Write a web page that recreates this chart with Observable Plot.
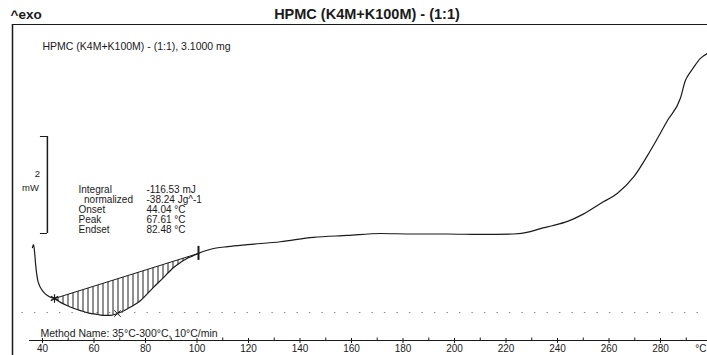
<!DOCTYPE html>
<html><head><meta charset="utf-8">
<script src="https://cdn.jsdelivr.net/npm/d3@7"></script>
<script src="https://cdn.jsdelivr.net/npm/@observablehq/plot@0.6"></script>
<style>body{margin:0;background:#fff;} svg{display:block}</style>
</head><body>
<svg width="0" height="0" style="position:absolute"><defs><pattern id="hatch" patternUnits="userSpaceOnUse" width="5" height="8"><line x1="2.5" y1="0" x2="2.5" y2="8" stroke="#222" stroke-width="1"/></pattern></defs></svg>
<div id="chart"></div>
<script>
// DSC curve: temperature (°C) and heat flow (mW, relative, exo up)
const tempC = [36.1,36.5,36.9,37.3,38.1,38.8,39.6,40.6,41.9,43.3,44.66,47.0,49.7,52.0,54.8,58.0,61.4,64.0,66.4,69.1,73.0,78.1,83.1,87.0,90.9,93.5,96.3,98.5,100.58,103.0,106.4,112.0,119.6,132.4,145.2,158.5,171.3,184.1,197.3,210.1,222.9,229.5,233.4,238.0,243.9,250.0,256.7,263.3,269.5,276.1,282.7,287.8,289.7,290.5,292.8,295.5,298.2];
const heatFlow = [-0.29,-0.23,-0.37,-0.62,-0.95,-1.07,-1.15,-1.22,-1.28,-1.32,-1.34,-1.42,-1.49,-1.54,-1.59,-1.64,-1.67,-1.69,-1.69,-1.65,-1.55,-1.38,-1.11,-0.91,-0.70,-0.60,-0.51,-0.46,-0.41,-0.36,-0.31,-0.27,-0.23,-0.17,-0.08,-0.04,0.00,-0.01,-0.01,-0.02,-0.01,0.04,0.10,0.16,0.25,0.40,0.62,0.83,1.16,1.71,2.33,2.80,3.16,3.24,3.42,3.61,3.71];
// integration limits (onset marker, peak marker, endset marker)
const markerT = [44.66, 69.1, 100.58];
const markerMW = [-1.34, -1.65, -0.41];
// texts
const titleText = "HPMC (K4M+K100M) - (1:1)";
const sampleText = "HPMC (K4M+K100M) - (1:1), 3.1000 mg";
const resultLabels = ["Integral", "\u00a0\u00a0normalized", "Onset", "Peak", "Endset"];
const resultValues = ["-116.53 mJ", "-38.24 Jg^-1", "44.04 °C", "67.61 °C", "82.48 °C"];
const methodText = "Method Name: 35°C-300°C, 10°C/min";
const methodRange = [35, 300];
const majorTicks = [40,60,80,100,120,140,160,180,200,220,240,260,280];
const minorTicks = [50,70,90,110,130,150,170,190,210,230,250,270,290];
const scaleBarMW = [0, 2];

const xDom = [28.35, 298.25];
const yDom = [-2.206, 4.309];
const curve = tempC.map((t, i) => ({t, v: heatFlow[i]}));
const peakArea = curve.filter(d => d.t >= markerT[0] && d.t <= markerT[2]);
peakArea.push({t: markerT[0], v: markerMW[0]});
const baseline = [{t: markerT[0], v: markerMW[0]}, {t: markerT[2], v: markerMW[2]}];
const scaleT = 41.9;
const ink = "#1a1a1a";
const F = "Liberation Sans, Arial, sans-serif";

const chart = Plot.plot({
  width: 707, height: 355,
  marginLeft: 12, marginRight: 0, marginTop: 24, marginBottom: 15,
  style: {fontFamily: F, color: ink, background: "#fff"},
  x: {domain: xDom, label: null},
  y: {domain: yDom, axis: null},
  marks: [
    // frame lines
    Plot.ruleY([yDom[1]], {stroke: ink, strokeWidth: 1.2}),
    Plot.ruleX([xDom[0]], {stroke: ink, strokeWidth: 1.5, insetBottom: -15}),
    // faint dotted scan row
    Plot.ruleY([-1.63], {stroke: "#888", strokeDasharray: "1.5,11", x1: 32, x2: 298}),
    // axis
    Plot.ruleY([yDom[0]], {x1: methodRange[0], x2: methodRange[1], stroke: ink, strokeWidth: 1}),
    Plot.axisX(majorTicks, {anchor: "bottom", tickSize: 3, tickPadding: 1, fontSize: 10, tickFormat: d => d, stroke: ink}),
    Plot.ruleX(majorTicks, {y1: yDom[0], y2: yDom[0], insetTop: -2, stroke: ink}),
    Plot.ruleX(minorTicks, {y1: yDom[0], y2: yDom[0], insetTop: -2.5, stroke: ink}),
    // hatched peak area
    Plot.line(peakArea, {x: "t", y: "v", fill: "url(#hatch)", stroke: "none"}),
    Plot.line(baseline, {x: "t", y: "v", stroke: ink, strokeWidth: 1}),
    // curve
    Plot.line(curve, {x: "t", y: "v", stroke: ink, strokeWidth: 1.2, curve: "monotone-x"}),
    // markers
    Plot.dot([0], {x: markerT[0], y: markerMW[0], symbol: "asterisk", r: 4, stroke: ink, strokeWidth: 1.2}),
    Plot.dot([0], {x: markerT[1], y: markerMW[1], symbol: "times", r: 3, stroke: ink, strokeWidth: 1}),
    Plot.ruleX([0], {x: markerT[2], y1: markerMW[2], y2: markerMW[2], insetTop: -7, insetBottom: -7, stroke: ink, strokeWidth: 2}),
    // scale bar
    Plot.ruleX([0], {x: scaleT, y1: scaleBarMW[0], y2: scaleBarMW[1], stroke: ink, strokeWidth: 1.5}),
    Plot.ruleY(scaleBarMW, {x1: scaleT - 2.7, x2: scaleT, stroke: ink}),
    Plot.text(["2"], {frameAnchor: "top-left", dx: 25, dy: 146, fontSize: 9.5, textAnchor: "middle"}),
    Plot.text(["mW"], {frameAnchor: "top-left", dx: 18, dy: 160, fontSize: 9.5, textAnchor: "middle"}),
    // titles
    Plot.text(["^exo"], {frameAnchor: "top-left", dx: -2, dy: -10, textAnchor: "start", lineAnchor: "middle", fontSize: 13.5, fontWeight: "bold"}),
    Plot.text([titleText], {frameAnchor: "top", dx: 7, dy: -10, lineAnchor: "middle", fontSize: 14.5, fontWeight: "bold"}),
    Plot.text([sampleText], {frameAnchor: "top-left", dx: 30, dy: 22, textAnchor: "start", lineAnchor: "middle", fontSize: 10.5}),
    // results
    Plot.text([resultLabels.join("\n")], {frameAnchor: "top-left", dx: 66, dy: 161, textAnchor: "start", lineAnchor: "top", fontSize: 10, lineHeight: 1.0}),
    Plot.text([resultValues.join("\n")], {frameAnchor: "top-left", dx: 134, dy: 161, textAnchor: "start", lineAnchor: "top", fontSize: 10, lineHeight: 1.0}),
    // method + unit
    Plot.text([methodText], {frameAnchor: "bottom-left", dx: 28, dy: -7, textAnchor: "start", lineAnchor: "middle", fontSize: 10.5}),
    Plot.text(["°C"], {frameAnchor: "bottom-right", dx: -1, dy: 8, textAnchor: "end", lineAnchor: "middle", fontSize: 10})
  ]
});
document.getElementById("chart").appendChild(chart);
</script>
</body></html>
